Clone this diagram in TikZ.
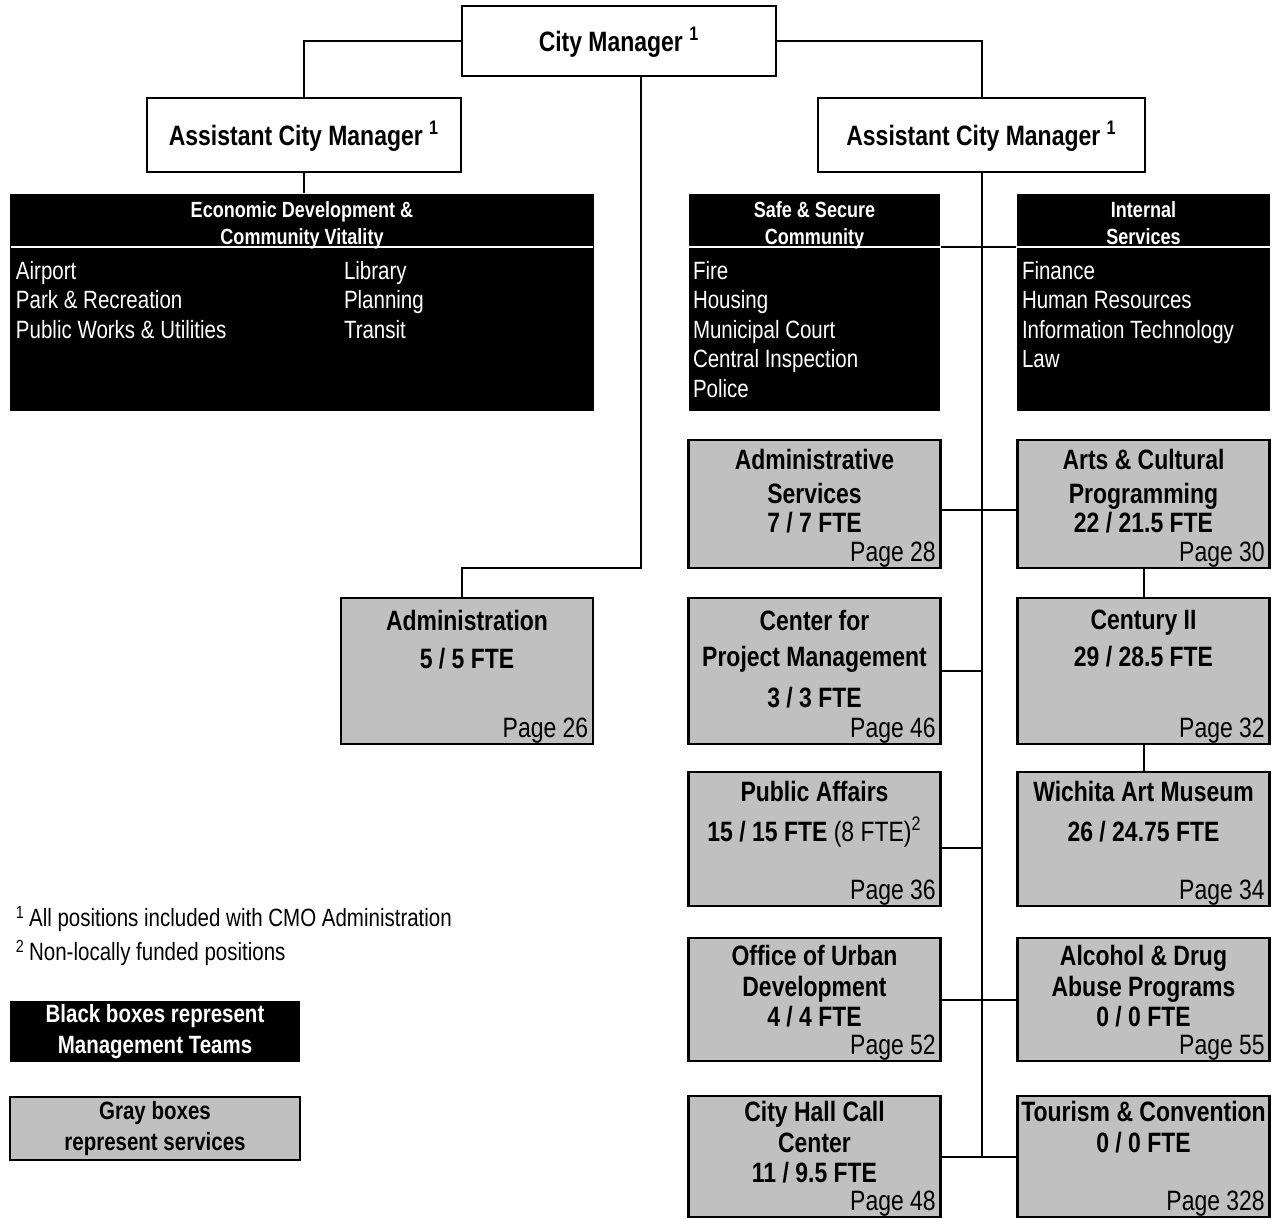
\documentclass[tikz,border=0pt]{standalone}
\usepackage{fontspec}
\setmainfont{Liberation Sans}[FakeStretch=0.82]
\definecolor{svcgray}{RGB}{192,192,192}
\begin{document}
\begin{tikzpicture}[
        x=0.5pt, y=-0.5pt,
        line width=1pt,
        head/.style={draw,line width=1pt,fill=white,inner sep=0pt,text depth=0pt,
                     font=\fontsize{14}{15}\selectfont\bfseries},
        team/.style={fill=black,inner sep=0pt,text=white,align=center},
        teamhd/.style={text=white,align=center,inner sep=0pt,anchor=north,
                       font=\fontsize{11}{13.5}\selectfont\bfseries},
        teamlist/.style={text=white,align=left,inner sep=0pt,anchor=north west,
                         font=\fontsize{12.5}{14.75}\selectfont},
        svc/.style={draw,line width=1.25pt,fill=svcgray,minimum width=126pt,inner sep=0pt},
        svctitle/.style={align=center,inner sep=0pt,anchor=north,
                         font=\fontsize{14}{15}\selectfont\bfseries},
        page/.style={anchor=south east,inner xsep=2.5pt,inner ysep=0.5pt,
                     font=\fontsize{14}{15}\selectfont},
        note/.style={anchor=west,inner sep=0pt,font=\fontsize{12.5}{15}\selectfont}
      ]
      \useasboundingbox (0,0) rectangle (1281,1219);

      % managers
      \node[head,minimum width=157pt,minimum height=35pt] (cm) at (619,41) {City Manager \smash{\textsuperscript{1}}};
      \node[head,minimum width=157pt,minimum height=37pt] (acmL) at (304,135) {Assistant City Manager \smash{\textsuperscript{1}}};
      \node[head,minimum width=163.5pt,minimum height=37pt] (acmR) at (981.5,135) {Assistant City Manager \smash{\textsuperscript{1}}};

      % management teams
      \node[team,minimum width=292pt,minimum height=108.5pt] (edcv) at (302,302.5) {};
      \node[team,minimum width=125.5pt,minimum height=108.5pt] (ssc) at (814.5,302.5) {};
      \node[team,minimum width=126.5pt,minimum height=108.5pt] (ints) at (1143.5,302.5) {};
      \coordinate (hdr) at (0,247);
      \draw[white] ([xshift=1pt]edcv.west |- hdr) -- ([xshift=-1pt]edcv.east |- hdr);
      \draw[white] (ssc.west |- hdr) -- (ssc.east |- hdr);
      \draw[white] (ints.west |- hdr) -- (ints.east |- hdr);
      \node[teamhd] (edcvhd) at (302,201) {Economic Development \&\\Community Vitality};
      \node[teamhd] (sschd) at (814.5,201) {Safe \& Secure\\Community};
      \node[teamhd] (intshd) at (1143.5,201) {Internal\\Services};
      \node[teamlist] (edcvA) at (15,260) {Airport\\Park \& Recreation\\Public Works \& Utilities};
      \node[teamlist] (edcvB) at (343,260) {Library\\Planning\\Transit};
      \node[teamlist] (ssclist) at (692,260) {Fire\\Housing\\Municipal Court\\Central Inspection\\Police};
      \node[teamlist] (intslist) at (1021,260) {Finance\\Human Resources\\Information Technology\\Law};

      % services
      \node[svc,minimum height=73pt] (adm) at (467,671) {};
      \node[svc,minimum height=64pt] (admsvc) at (814.5,504) {};
      \node[svc,minimum height=64pt] (arts) at (1143.5,504) {};
      \node[svc,minimum height=73pt] (cpm) at (814.5,671) {};
      \node[svc,minimum height=73pt] (century) at (1143.5,671) {};
      \node[svc,minimum height=67pt] (pubaff) at (814.5,839) {};
      \node[svc,minimum height=67pt] (wam) at (1143.5,839) {};
      \node[svc,minimum height=61.5pt] (urb) at (814.5,999.5) {};
      \node[svc,minimum height=61.5pt] (alc) at (1143.5,999.5) {};
      \node[svc,minimum height=60.5pt] (hall) at (814.5,1156.5) {};
      \node[svc,minimum height=60.5pt] (tour) at (1143.5,1156.5) {};

      \node[svctitle] (admtx) at (467,609) {Administration\\[4pt]5 / 5 FTE};
      \node[svctitle] (admsvctx) at (814.5,448) {Administrative\\[2pt]Services\\[-0.5pt]7 / 7 FTE};
      \node[svctitle] (artstx) at (1143.5,448) {Arts \& Cultural\\[2pt]Programming\\[-0.5pt]22 / 21.5 FTE};
      \node[svctitle] (cpmtx) at (814.5,609) {Center for\\[3pt]Project Management\\[5.5pt]3 / 3 FTE};
      \node[svctitle] (centurytx) at (1143.5,609) {Century II\\[3.5pt]29 / 28.5 FTE};
      \node[svctitle] (pubafftx) at (814.5,780) {Public Affairs\\[5pt]15 / 15 FTE {\mdseries(8 FTE)\textsuperscript{2}}};
      \node[svctitle] (wamtx) at (1143.5,780) {Wichita Art Museum\\[5pt]26 / 24.75 FTE};
      \node[svctitle] (urbtx) at (814.5,944) {Office of Urban\\[0.5pt]Development\\4 / 4 FTE};
      \node[svctitle] (alctx) at (1143.5,944) {Alcohol \& Drug\\[0.5pt]Abuse Programs\\0 / 0 FTE};
      \node[svctitle] (halltx) at (814.5,1100) {City Hall Call\\[0.5pt]Center\\11 / 9.5 FTE};
      \node[svctitle] (tourtx) at (1143.5,1100) {Tourism \& Convention\\[0.5pt]0 / 0 FTE};

      \node[page] (admpg) at (adm.south east) {Page 26};
      \node[page] (admsvcpg) at (admsvc.south east) {Page 28};
      \node[page] (artspg) at (arts.south east) {Page 30};
      \node[page] (cpmpg) at (cpm.south east) {Page 46};
      \node[page] (centurypg) at (century.south east) {Page 32};
      \node[page] (pubaffpg) at (pubaff.south east) {Page 36};
      \node[page] (wampg) at (wam.south east) {Page 34};
      \node[page] (urbpg) at (urb.south east) {Page 52};
      \node[page] (alcpg) at (alc.south east) {Page 55};
      \node[page] (hallpg) at (hall.south east) {Page 48};
      \node[page] (tourpg) at (tour.south east) {Page 328};

      % lines
      \draw (cm.west) -| (acmL.north);
      \draw (cm.east) -| (acmR.north);
      \coordinate (admj) at (641,568);
      \draw ([xshift=11pt]cm.south) -- (admj) -| ([xshift=-2.5pt]adm.north);
      \draw (acmL.south) -- (acmL.south |- edcv.north);
      \draw (ssc.east |- hdr) -- (ints.west |- hdr);
      \draw (acmR.south) -- (acmR.south |- hall.east);
      \draw ([yshift=-3pt]admsvc.east) -- ([yshift=-3pt]arts.west);
      \draw (cpm.east) -- (cpm.east -| acmR.south);
      \draw ([yshift=-4.5pt]pubaff.east) -- ([yshift=-4.5pt]pubaff.east -| acmR.south);
      \draw (urb.east) -- (alc.west);
      \draw (hall.east) -- (tour.west);
      \draw (arts.south) -- (century.north);
      \draw (century.south) -- (wam.north);

      % notes and key
      \node[note] (fn1) at (15,919) {\textsuperscript{1}\,All positions included with CMO Administration};
      \node[note] (fn2) at (15,953) {\textsuperscript{2}\,Non-locally funded positions};
      \node[team,minimum width=145pt,minimum height=30.5pt,
            font=\fontsize{12.5}{15.5}\selectfont\bfseries] (keyteam) at (155,1031.5)
            {Black boxes represent\\Management Teams};
      \node[draw,line width=1.25pt,fill=svcgray,align=center,minimum width=145pt,minimum height=31.5pt,
            inner sep=0pt,font=\fontsize{12.5}{15.5}\selectfont\bfseries] (keysvc) at (155,1128.5)
            {Gray boxes\\represent services};
    \end{tikzpicture}
\end{document}
